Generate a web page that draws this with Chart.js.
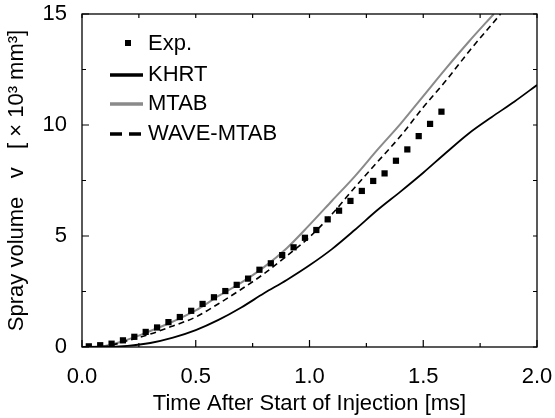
<!DOCTYPE html>
<html><head><meta charset="utf-8">
<script src="https://cdn.jsdelivr.net/npm/chart.js@4"></script>
<style>html,body{margin:0;padding:0;background:#fff}</style>
</head><body>
<canvas id="c" width="555" height="418"></canvas>
<script>
// ---- data ----
const expTime   = [0.03,0.08,0.13,0.18,0.23,0.28,0.33,0.38,0.43,0.48,0.53,0.58,0.63,0.68,0.73,0.78,0.83,0.88,0.93,0.98,1.03,1.08,1.13,1.18,1.23,1.28,1.33,1.38,1.43,1.48,1.53,1.58];
const expVolume = [0.03,0.08,0.15,0.30,0.46,0.68,0.88,1.12,1.35,1.63,1.94,2.24,2.52,2.80,3.08,3.48,3.77,4.14,4.49,4.92,5.27,5.75,6.14,6.58,7.03,7.48,7.82,8.39,8.90,9.50,10.05,10.60];

const khrtTime   = [0,0.1,0.2,0.3,0.4,0.5,0.6,0.7,0.8,0.9,1.0,1.1,1.2,1.3,1.4,1.5,1.6,1.7,1.8,1.9,2.0];
const khrtVolume = [0,0.0,0.05,0.18,0.42,0.76,1.22,1.78,2.42,3.02,3.68,4.42,5.28,6.18,7.00,7.85,8.75,9.62,10.35,11.05,11.80];

const mtabTime   = [0,0.1,0.2,0.3,0.4,0.5,0.6,0.7,0.8,0.9,1.0,1.1,1.2,1.3,1.4,1.5,1.6,1.7,1.81];
const mtabVolume = [0,0.05,0.33,0.72,1.15,1.65,2.30,2.90,3.60,4.45,5.50,6.60,7.70,8.90,10.05,11.30,12.55,13.75,15.0];

const waveTime   = [0,0.1,0.2,0.3,0.4,0.5,0.6,0.7,0.8,0.9,1.0,1.1,1.2,1.3,1.4,1.5,1.6,1.7,1.84];
const waveVolume = [0,0.03,0.28,0.58,0.95,1.35,1.95,2.60,3.30,4.10,4.95,6.00,7.20,8.35,9.50,10.80,12.00,13.30,15.0];

const xTickValues = [0,0.5,1.0,1.5,2.0];
const yTickValues = [0,5,10,15];
const seriesNames = ['Exp.','KHRT','MTAB','WAVE-MTAB'];

const FONT = "'Liberation Sans', Arial, Helvetica, sans-serif";
const zip = (xs, ys) => xs.map((x,i)=>({x, y: ys[i]}));
const noPad = s => { s.paddingTop = 0; s.paddingBottom = 0; s.paddingLeft = 0; s.paddingRight = 0; };

const frame = {
  id:'frame',
  afterDatasetsDraw(chart){
    const {ctx, chartArea:a, scales:{x,y}} = chart;
    ctx.save();
    ctx.strokeStyle='#000';
    ctx.lineWidth=1.3;
    ctx.strokeRect(a.left, a.top, a.right-a.left, a.bottom-a.top);
    ctx.lineWidth=1.2;
    ctx.beginPath();
    for (let v=x.min; v<=x.max+1e-9; v+=0.25){
      const px = x.getPixelForValue(v);
      const major = xTickValues.some(t=>Math.abs(t-v)<1e-9);
      ctx.moveTo(px, a.bottom); ctx.lineTo(px, a.bottom-(major?7:4));
      ctx.moveTo(px, a.top); ctx.lineTo(px, a.top+4);
    }
    for (let v=y.min; v<=y.max+1e-9; v+=2.5){
      const py = y.getPixelForValue(v);
      const major = yTickValues.some(t=>Math.abs(t-v)<1e-9);
      ctx.moveTo(a.left, py); ctx.lineTo(a.left+(major?7:4), py);
      ctx.moveTo(a.right, py); ctx.lineTo(a.right-4, py);
    }
    ctx.stroke();
    ctx.restore();
  },
  afterDraw(chart){
    const {ctx, chartArea:a} = chart;
    const ds = chart.data.datasets;
    ctx.save();
    ctx.font = '22px ' + FONT;
    ctx.fillStyle = '#000';
    ctx.textBaseline = 'middle';
    ctx.textAlign = 'left';
    const x0 = a.left + 28, x1 = a.left + 61, tx = a.left + 66;
    const rows = [a.top + 29, a.top + 61, a.top + 90, a.top + 120];
    ctx.fillStyle = ds[0].backgroundColor;
    ctx.fillRect(a.left + 43, rows[0]-3, 6, 6);
    ctx.fillStyle = '#000';
    ctx.fillText(seriesNames[0], tx, rows[0]+1);
    for (let i=1;i<4;i++){
      ctx.beginPath();
      ctx.strokeStyle = ds[i].borderColor;
      ctx.lineWidth = 3.5;
      ctx.setLineDash(i===3 ? [12,7] : []);
      ctx.moveTo(x0, rows[i]); ctx.lineTo(x1, rows[i]);
      ctx.stroke();
      ctx.setLineDash([]);
      ctx.fillText(seriesNames[i], tx, rows[i]);
    }
    ctx.restore();
  }
};

new Chart(document.getElementById('c'), {
  type: 'line',
  data: {
    datasets: [
      { label: seriesNames[0], data: zip(expTime, expVolume), showLine:false,
        pointStyle:'rect', pointRadius:4.4, pointBorderWidth:0,
        backgroundColor:'#000', borderColor:'#000', order:0 },
      { label: seriesNames[1], data: zip(khrtTime, khrtVolume), borderColor:'#000',
        borderWidth:1.8, pointRadius:0, cubicInterpolationMode:'monotone', order:1 },
      { label: seriesNames[2], data: zip(mtabTime, mtabVolume), borderColor:'#8a8a8a',
        borderWidth:2, pointRadius:0, cubicInterpolationMode:'monotone', order:2 },
      { label: seriesNames[3], data: zip(waveTime, waveVolume), borderColor:'#000',
        borderWidth:1.6, borderDash:[6,4], pointRadius:0, cubicInterpolationMode:'monotone', order:1 }
    ]
  },
  options: {
    responsive:false,
    animation:false,
    events:[],
    layout:{ padding:{ left:0, top:14, right:18, bottom:0 } },
    plugins:{ legend:{display:false}, tooltip:{enabled:false} },
    scales:{
      x:{
        type:'linear', min:0, max:2,
        afterFit(s){ s.height = 71; noPad(s); },
        afterBuildTicks(s){ s.ticks = xTickValues.map(v=>({value:v})); },
        ticks:{ padding:17, color:'#000', font:{family:FONT, size:22},
          callback:v=>v.toFixed(1), maxRotation:0, autoSkip:false },
        grid:{ display:false, drawTicks:false },
        border:{ display:false },
        title:{ display:true, text:'Time After Start of Injection [ms]', color:'#000',
          font:{family:FONT, size:22}, padding:{top:0,bottom:1} }
      },
      y:{
        type:'linear', min:0, max:15,
        afterFit(s){ s.width = 82; noPad(s); },
        afterBuildTicks(s){ s.ticks = yTickValues.map(v=>({value:v})); },
        ticks:{ padding:15, color:'#000', font:{family:FONT, size:22}, autoSkip:false },
        grid:{ display:false, drawTicks:false },
        border:{ display:false },
        title:{ display:true, text:'Spray volume   v   [ × 10³ mm³]', color:'#000',
          font:{family:FONT, size:22}, padding:{top:4,bottom:0} }
      }
    }
  },
  plugins:[frame]
});
</script>
</body></html>
